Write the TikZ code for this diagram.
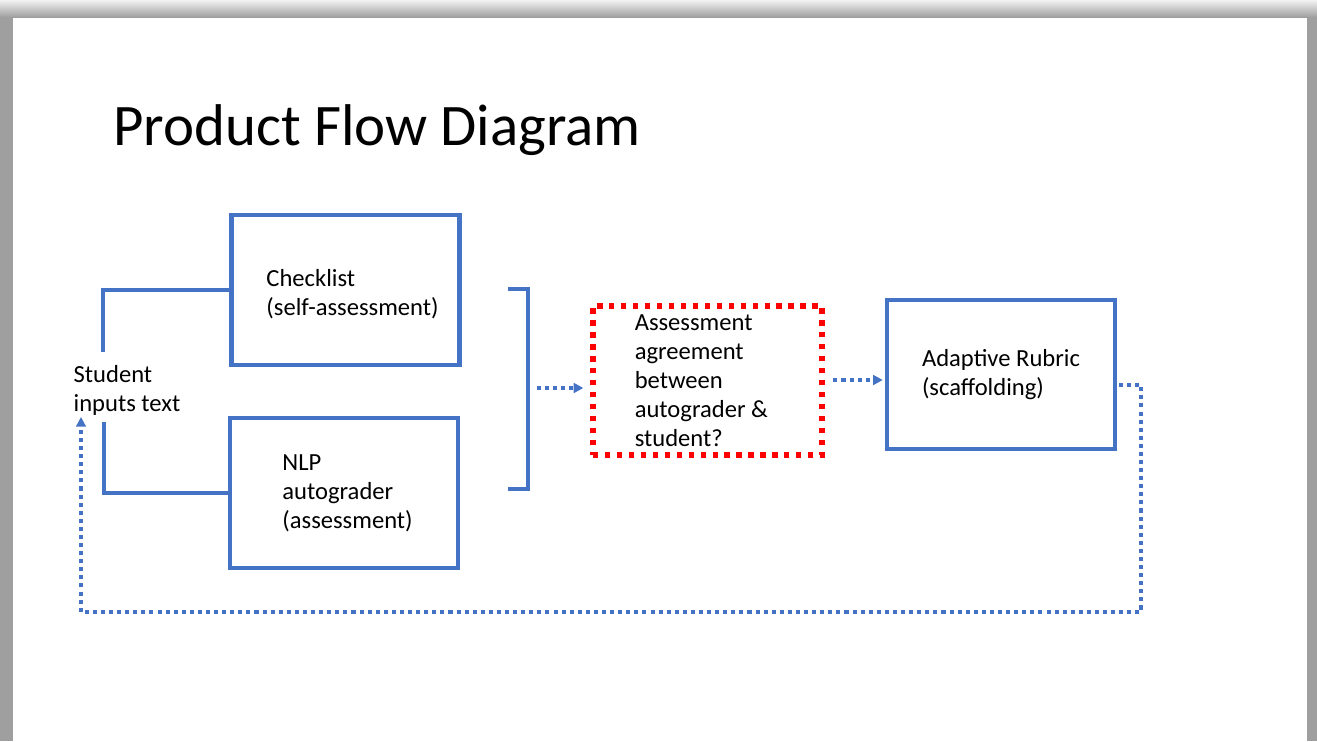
\documentclass[tikz,border=0pt]{standalone}
\usepackage{fontspec}
\setmainfont{Carlito}
\usetikzlibrary{arrows.meta}
\definecolor{boxblue}{HTML}{4472C4}
\definecolor{flagred}{HTML}{FF0000}
\begin{document}
\begin{tikzpicture}[x=0.02cm, y=-0.02cm]
    \tikzstyle{box}=[draw=boxblue, line width=2.8pt, minimum width=4.56cm, minimum height=3cm, align=left, font=\fontsize{14}{16.5}\selectfont]
    \tikzstyle{check}=[draw=flagred, line width=3pt, dash pattern=on 3pt off 3.8pt]
    \tikzstyle{wire}=[draw=boxblue, line width=2.1pt]
    \tikzstyle{flow}=[draw=boxblue, line width=2.3pt, dash pattern=on 2.3pt off 2.3pt, -{Triangle[length=5.5pt, width=5.5pt]}]

    \useasboundingbox (0,0) rectangle (1317,741);
    % slide frame
    \fill[gray!75] (0,0) rectangle (13,741);
    \fill[gray!75] (1307,0) rectangle (1317,741);
    \shade[top color=gray!10, bottom color=gray!75] (0,0) rectangle (1317,17);

    \node[anchor=base west, inner sep=0pt, font=\fontsize{33.5}{40}\selectfont] (title) at (113,145) {Product Flow Diagram};

    \node[align=left, font=\fontsize{14}{16.5}\selectfont] (student) at (127,390) {Student\\inputs text};
    \node[box] (check) at (345.5,290) {\rule{0pt}{15pt}\hspace*{8pt}Checklist\\\hspace*{8pt}(self-assessment)};
    \node[box] (nlp) at (344,493) {\hspace*{4pt}NLP\\\hspace*{4pt}autograder\\\hspace*{4pt}(assessment)};
    \node[box, check, minimum width=4.58cm, minimum height=2.98cm] (agree) at (707.5,380.5) {Assessment\\agreement\\between\\autograder \&\rule{7pt}{0pt}\\student?};
    \node[box, minimum height=2.98cm] (rubric) at (1001,374.5) {Adaptive Rubric\\(scaffolding)};

    \coordinate (s-up) at (103,352);
    \coordinate (s-down) at (104,422);
    \coordinate (bk-top) at (508,289);
    \coordinate (bk-bot) at (508,489);
    \coordinate (bk-mid) at (528,388);
    \coordinate (fb-out) at (1119,385);
    \coordinate (fb-turn) at (1141,612);
    \coordinate (s-in) at (81,417);

    \draw[wire] (s-up) |- (check.west);
    \draw[wire] (s-down) |- (nlp.west);
    \draw[wire] (bk-top) -| (bk-mid) |- (bk-bot);

    \draw[flow, shorten <=5pt, shorten >=4pt] (bk-mid) -- (bk-mid -| agree.west);
    \draw[flow, shorten <=5pt, shorten >=1pt] (agree.east |- 0,380) -- (rubric.west |- 0,380);
    \draw[flow] (fb-out) -| (fb-turn) -| (s-in);
\end{tikzpicture}
\end{document}
